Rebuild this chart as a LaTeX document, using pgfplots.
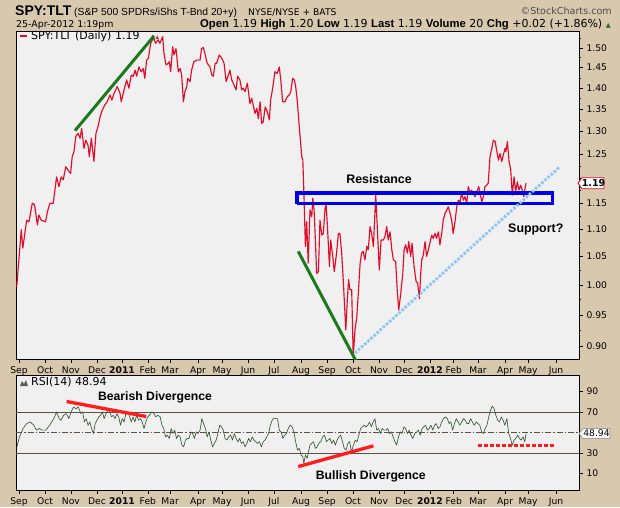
\documentclass[border=0pt]{standalone}
\usepackage{pgfplots}
\pgfplotsset{compat=1.18}
\usepackage{fontspec}
\setmainfont{DejaVu Sans}
\newfontfamily\lib{Liberation Sans}
\usetikzlibrary{calc}
\definecolor{tanbg}{RGB}{216,200,174}
\definecolor{plotbg}{RGB}{240,240,240}
\definecolor{pricered}{RGB}{226,12,40}
\definecolor{rsigreen}{RGB}{52,88,52}
\definecolor{trendgreen}{RGB}{28,122,28}
\definecolor{boxblue}{RGB}{0,0,235}
\definecolor{supblue}{RGB}{140,196,245}
\definecolor{annred}{RGB}{255,28,28}
\definecolor{refline}{RGB}{96,80,68}
\definecolor{upgreen}{RGB}{40,110,40}
\pgfplotsset{
  stockaxis/.style={
    scale only axis, width=563pt, xmin=-0.117, xmax=21.90,
    axis background/.style={fill=plotbg},
    axis line style={black, line width=0.8pt},
    xtick={0,1.02,2.03,3.05,4.03,5.04,5.91,7.0,7.94,8.96,9.97,11.03,12.05,13.06,14.08,15.06,16.07,17.0,17.95,19.01,19.91,21.0},
    xticklabels={Sep,Oct,Nov,Dec,\textbf{2011},Feb,Mar,Apr,May,Jun,Jul,Aug,Sep,Oct,Nov,Dec,\textbf{2012},Feb,Mar,Apr,May,Jun},
    xtick pos=bottom, ytick pos=right, yticklabel pos=right,
    tick align=outside, major tick length=4pt, minor tick length=2pt,
    tick style={black, line width=0.6pt},
    ticklabel style={font=\fontsize{9.2}{10}\selectfont},
    /pgf/number format/assume math mode=true,
  }
}
\newcommand\hb[1]{{\lib\bfseries\fontsize{11.3}{12}\selectfont #1}}
\begin{document}
\begin{tikzpicture}[x=1pt,y=1pt]
\useasboundingbox (0,0) rectangle (620,507);
\fill[tanbg] (0,0) rectangle (620,507);
% header
\node[anchor=base west, inner sep=0pt, font=\lib\bfseries\fontsize{14}{15}\selectfont] at (15,491) {SPY:TLT};
\node[anchor=base west, inner sep=0pt, font=\lib\fontsize{10.3}{12}\selectfont] at (74,491) {(S\&P 500 SPDRs/iShs T-Bnd 20+y)};
\node[anchor=base west, inner sep=0pt, font=\fontsize{9.2}{10}\selectfont] at (248,491.5) {NYSE/NYSE + BATS};
\node[anchor=base east, inner sep=0pt, font=\fontsize{9.6}{10}\selectfont, text=black!70] at (612,492) {©StockCharts.com};
\node[anchor=base west, inner sep=0pt, font=\fontsize{9.4}{10}\selectfont] at (16,479.5) {25-Apr-2012 1:19pm};
\node[anchor=base east, inner sep=0pt, font=\fontsize{11}{11}\selectfont] at (611,479.5) {\hb{Open} 1.19 \hb{High} 1.20 \hb{Low} 1.19 \hb{Last} 1.19 \hb{Volume} 20 \hb{Chg} +0.02 (+1.86\%) {\color{upgreen}\fontsize{6.5}{7}\selectfont ▲}};

% ---------------- price panel
\begin{axis}[stockaxis, at={(16pt,148pt)}, anchor=south west, height=328pt,
  ymode=log, ymin=0.881, ymax=1.544,
  ytick={0.90,0.95,1.00,1.05,1.10,1.15,1.20,1.25,1.30,1.35,1.40,1.45,1.50},
  yticklabels={0.90,0.95,1.00,1.05,1.10,1.15,,1.25,1.30,1.35,1.40,1.45,1.50},
  minor ytick={0.925,0.975,1.025,1.075,1.125,1.175,1.225,1.275,1.325,1.375,1.425,1.475,1.525},
]
\addplot[pricered, line width=1.15pt, line join=round] coordinates {
(-0.09,0.997) (0.09,1.099) (0.15,1.065) (0.30,1.117) (0.39,1.114) (0.52,1.150) (0.61,1.147) (0.72,1.108) (0.78,1.127) (0.87,1.117) (1.04,1.114) (1.11,1.133) (1.21,1.150) (1.34,1.150) (1.47,1.203) (1.56,1.183) (1.65,1.203) (1.73,1.197) (1.83,1.224) (1.92,1.217) (2.02,1.210) (2.08,1.245) (2.15,1.256) (2.22,1.289) (2.31,1.296) (2.39,1.285) (2.45,1.307) (2.54,1.263) (2.61,1.281) (2.70,1.270) (2.75,1.245) (2.83,1.285) (2.93,1.235) (3.01,1.296) (3.09,1.311) (3.17,1.333) (3.26,1.349) (3.35,1.360) (3.45,1.368) (3.56,1.384) (3.63,1.372) (3.72,1.388) (3.84,1.404) (3.95,1.388) (4.00,1.368) (4.11,1.396) (4.21,1.420) (4.30,1.400) (4.39,1.432) (4.47,1.429) (4.54,1.444) (4.60,1.429) (4.69,1.452) (4.78,1.440) (4.86,1.448) (4.92,1.424) (4.99,1.469) (5.06,1.474) (5.15,1.512) (5.25,1.525) (5.35,1.512) (5.44,1.521) (5.51,1.512) (5.62,1.529) (5.67,1.486) (5.75,1.457) (5.84,1.461) (5.88,1.465) (5.93,1.440) (6.01,1.503) (6.06,1.482) (6.14,1.498) (6.23,1.440) (6.30,1.448) (6.36,1.432) (6.43,1.368) (6.49,1.392) (6.56,1.404) (6.60,1.424) (6.69,1.416) (6.75,1.444) (6.84,1.465) (6.95,1.469) (7.08,1.469) (7.14,1.498) (7.21,1.501) (7.27,1.486) (7.36,1.461) (7.47,1.452) (7.54,1.432) (7.60,1.429) (7.67,1.461) (7.73,1.461) (7.83,1.482) (7.93,1.474) (8.02,1.461) (8.10,1.416) (8.19,1.432) (8.25,1.444) (8.32,1.420) (8.38,1.412) (8.49,1.396) (8.55,1.429) (8.64,1.420) (8.71,1.396) (8.77,1.400) (8.84,1.392) (8.93,1.412) (8.99,1.384) (9.03,1.364) (9.10,1.376) (9.16,1.360) (9.23,1.341) (9.30,1.353) (9.36,1.329) (9.43,1.368) (9.49,1.318) (9.55,1.322) (9.63,1.356) (9.71,1.345) (9.79,1.326) (9.84,1.372) (9.92,1.400) (10.01,1.440) (10.10,1.436) (10.18,1.452) (10.25,1.412) (10.31,1.368) (10.40,1.368) (10.49,1.380) (10.57,1.384) (10.63,1.392) (10.70,1.424) (10.77,1.420) (10.82,1.404) (10.88,1.372) (10.96,1.311) (11.06,1.245) (11.10,1.238) (11.15,1.156) (11.20,1.068) (11.25,1.114) (11.31,1.038) (11.38,1.137) (11.45,1.124) (11.49,1.160) (11.54,1.137) (11.58,1.092) (11.64,1.020) (11.71,1.023) (11.77,1.117) (11.84,1.089) (11.90,1.092) (11.97,1.140) (12.01,1.147) (12.06,1.108) (12.14,1.032) (12.19,1.080) (12.27,1.050) (12.33,1.023) (12.42,1.056) (12.49,1.092) (12.55,1.092) (12.62,1.056) (12.68,1.009) (12.72,0.975) (12.78,0.926) (12.84,0.975) (12.89,1.009) (12.94,0.992) (13.01,0.992) (13.07,0.885) (13.14,0.926) (13.21,0.947) (13.27,0.986) (13.34,1.038) (13.40,1.056) (13.46,1.059) (13.53,1.044) (13.60,1.068) (13.66,1.062) (13.73,1.105) (13.79,1.092) (13.86,1.068) (13.95,1.166) (14.01,1.105) (14.09,1.026) (14.16,1.080) (14.25,1.080) (14.31,1.086) (14.38,1.105) (14.44,1.080) (14.51,1.095) (14.58,1.062) (14.64,1.044) (14.73,1.041) (14.79,0.992) (14.85,0.958) (14.93,0.986) (15.01,1.020) (15.06,1.062) (15.12,1.071) (15.19,1.056) (15.24,1.077) (15.32,1.050) (15.37,1.074) (15.45,1.032) (15.53,1.006) (15.59,1.003) (15.66,0.977) (15.71,1.020) (15.75,1.044) (15.81,1.052) (15.88,1.077) (15.94,1.050) (16.01,1.062) (16.14,1.089) (16.20,1.083) (16.27,1.092) (16.33,1.083) (16.40,1.095) (16.46,1.071) (16.53,1.092) (16.59,1.117) (16.66,1.130) (16.73,1.137) (16.79,1.143) (16.86,1.130) (16.92,1.117) (16.98,1.092) (17.05,1.114) (17.12,1.143) (17.18,1.156) (17.25,1.153) (17.31,1.170) (17.38,1.156) (17.44,1.163) (17.51,1.150) (17.57,1.183) (17.64,1.170) (17.70,1.176) (17.77,1.170) (17.83,1.163) (17.90,1.173) (17.98,1.183) (18.03,1.170) (18.10,1.153) (18.16,1.163) (18.22,1.183) (18.29,1.186) (18.35,1.190) (18.42,1.245) (18.49,1.263) (18.55,1.281) (18.62,1.278) (18.68,1.259) (18.75,1.238) (18.81,1.252) (18.88,1.235) (18.94,1.249) (19.01,1.263) (19.04,1.256) (19.10,1.278) (19.16,1.238) (19.23,1.217) (19.29,1.166) (19.36,1.203) (19.42,1.173) (19.49,1.193) (19.55,1.176) (19.62,1.186) (19.68,1.176) (19.74,1.163) (19.80,1.183) (19.83,1.190)
};
% annotations
\addplot[trendgreen, line width=3pt] coordinates {(2.19,1.302) (5.28,1.531)};
\addplot[trendgreen, line width=3pt] coordinates {(10.92,1.059) (13.18,0.878)};
\addplot[boxblue, line width=3.3pt, line join=miter] coordinates {(10.87,1.149) (20.86,1.149) (20.86,1.170) (10.87,1.170) (10.87,1.149)};
\addplot[supblue, line width=2.8pt, dash pattern=on 2.6pt off 1.6pt] coordinates {(13.14,0.890) (21.13,1.223)};
\node[font=\lib\bfseries\fontsize{12.4}{14}\selectfont] at (axis cs:14.08,1.198) {Resistance};
\node[font=\lib\bfseries\fontsize{12.4}{14}\selectfont] at (axis cs:20.21,1.0995) {Support?};
\coordinate (tag1) at (axis cs:21.90,1.19);
\end{axis}
% legend price
\draw[pricered, line width=2pt] (20,471) -- (27,471);
\node[anchor=base west, inner sep=0pt, font=\fontsize{11}{11}\selectfont] at (31,467) {SPY:TLT (Daily) 1.19};
\node[anchor=base west, inner sep=0pt, font=\fontsize{7}{7}\selectfont] at (150,467) {\color{upgreen}▲\color{pricered}\raisebox{0.3pt}{▴}};
% price tag
\draw[pricered, fill=white, line width=0.9pt] ($(tag1)+(-1,0)$) -- ++(4,5.5) -- ++(22,0) -- ++(0,-11) -- ++(-22,0) -- cycle;
\node[font=\bfseries\fontsize{9.5}{10}\selectfont] at ($(tag1)+(14.5,0)$) {1.19};

% ---------------- RSI panel
\begin{axis}[stockaxis, at={(16pt,17pt)}, anchor=south west, height=115pt,
  ymin=-6, ymax=106, ytick={10,30,50,70,90}, yticklabels={10,30,,70,90},
]
\addplot[refline, line width=0.8pt] coordinates {(-0.117,70) (21.90,70)};
\addplot[refline, line width=0.8pt] coordinates {(-0.117,30) (21.90,30)};
\addplot[refline, line width=0.7pt, dash pattern=on 6pt off 2pt on 1.5pt off 2pt] coordinates {(-0.117,50) (21.90,50)};
\addplot[rsigreen, line width=0.65pt, line join=round] coordinates {
(-0.08,36.1) (0.02,45.8) (0.16,53.9) (0.30,58.7) (0.44,60.3) (0.58,57.1) (0.68,52.3) (0.79,53.9) (0.91,52.3) (1.05,52.3) (1.15,55.5) (1.24,58.7) (1.36,63.5) (1.47,70.0) (1.57,63.5) (1.64,61.9) (1.75,66.8) (1.85,68.4) (1.95,63.5) (2.04,70.0) (2.13,74.8) (2.23,73.2) (2.32,74.8) (2.42,68.4) (2.49,70.0) (2.56,60.3) (2.63,63.5) (2.70,57.1) (2.77,60.3) (2.84,53.9) (2.91,49.0) (2.98,58.7) (3.05,61.9) (3.12,65.2) (3.19,66.8) (3.26,70.0) (3.33,63.5) (3.40,68.4) (3.48,71.6) (3.55,70.0) (3.62,65.2) (3.69,66.8) (3.76,63.5) (3.83,68.4) (3.90,65.2) (3.97,57.1) (4.04,63.5) (4.11,60.3) (4.18,68.4) (4.29,68.4) (4.39,60.3) (4.46,65.2) (4.53,60.3) (4.60,66.8) (4.68,61.9) (4.75,63.5) (4.82,60.3) (4.89,53.9) (4.96,60.3) (5.03,65.2) (5.10,66.8) (5.20,70.0) (5.28,68.4) (5.35,65.2) (5.42,66.8) (5.52,65.2) (5.59,57.1) (5.66,53.9) (5.73,45.8) (5.80,47.4) (5.88,44.2) (5.95,53.9) (6.02,49.0) (6.09,52.3) (6.16,44.2) (6.23,47.4) (6.30,45.8) (6.37,37.7) (6.44,36.1) (6.51,42.6) (6.58,44.2) (6.65,44.2) (6.72,50.6) (6.79,49.0) (6.86,44.2) (6.93,50.6) (7.00,49.0) (7.08,52.3) (7.15,63.5) (7.22,58.7) (7.29,53.9) (7.36,45.8) (7.43,50.6) (7.50,42.6) (7.57,36.1) (7.64,39.4) (7.71,42.6) (7.78,49.0) (7.85,57.1) (7.92,55.5) (7.99,52.3) (8.06,44.2) (8.13,42.6) (8.20,45.8) (8.28,47.4) (8.35,42.6) (8.42,49.0) (8.49,44.2) (8.56,41.0) (8.63,44.2) (8.70,39.4) (8.77,41.0) (8.84,36.1) (8.91,39.4) (8.98,44.2) (9.05,41.0) (9.12,45.8) (9.19,42.6) (9.26,41.0) (9.33,39.4) (9.40,41.0) (9.48,36.1) (9.55,41.0) (9.62,42.6) (9.69,45.8) (9.76,49.0) (9.83,57.1) (9.90,61.9) (9.97,64.2) (10.04,63.5) (10.11,63.5) (10.18,52.3) (10.25,50.6) (10.32,44.2) (10.39,47.4) (10.46,49.0) (10.53,53.9) (10.60,57.1) (10.68,55.5) (10.75,50.6) (10.82,41.0) (10.89,32.9) (10.96,34.5) (11.03,28.1) (11.10,26.4) (11.14,20.0) (11.20,28.1) (11.27,24.8) (11.32,31.3) (11.38,37.7) (11.45,39.4) (11.52,41.0) (11.59,34.5) (11.66,36.1) (11.73,39.4) (11.80,41.0) (11.88,45.8) (11.95,47.4) (12.02,41.0) (12.09,42.6) (12.16,44.2) (12.23,39.4) (12.30,42.6) (12.37,37.7) (12.44,42.6) (12.51,45.8) (12.58,47.4) (12.65,41.0) (12.72,34.5) (12.79,32.9) (12.86,39.4) (12.93,41.0) (13.00,31.3) (13.08,37.7) (13.15,42.6) (13.22,41.0) (13.29,47.4) (13.36,53.9) (13.43,55.5) (13.50,57.1) (13.57,55.5) (13.64,57.1) (13.71,60.3) (13.78,55.5) (13.85,60.3) (13.92,63.5) (13.99,52.3) (14.06,53.9) (14.13,49.0) (14.20,53.9) (14.28,52.3) (14.35,52.3) (14.42,53.9) (14.49,49.0) (14.56,50.6) (14.63,45.8) (14.70,41.0) (14.77,37.7) (14.84,45.8) (14.91,50.6) (14.98,49.0) (15.05,55.5) (15.12,53.9) (15.19,49.0) (15.26,52.3) (15.33,47.4) (15.40,44.2) (15.48,49.0) (15.55,50.6) (15.62,52.3) (15.69,47.4) (15.76,53.9) (15.83,55.5) (15.90,57.1) (15.97,52.3) (16.04,53.9) (16.11,57.1) (16.18,52.3) (16.25,57.1) (16.32,58.7) (16.39,53.9) (16.46,55.5) (16.53,60.3) (16.60,63.5) (16.68,65.2) (16.75,63.5) (16.82,58.7) (16.89,60.3) (16.96,52.3) (17.03,58.7) (17.10,63.5) (17.17,60.3) (17.24,57.1) (17.31,60.3) (17.38,63.5) (17.45,61.9) (17.52,58.7) (17.59,58.7) (17.66,63.5) (17.73,60.3) (17.80,57.1) (17.88,60.3) (17.95,58.7) (18.02,57.1) (18.09,50.6) (18.16,49.0) (18.23,53.9) (18.30,57.1) (18.37,65.2) (18.44,71.6) (18.51,75.8) (18.58,73.2) (18.65,66.8) (18.72,61.9) (18.79,60.3) (18.86,65.2) (18.93,61.9) (19.00,57.1) (19.08,63.5) (19.15,49.0) (19.22,44.2) (19.29,37.7) (19.36,42.6) (19.43,44.2) (19.50,47.4) (19.57,44.2) (19.64,42.6) (19.71,45.8) (19.78,41.0) (19.83,48.94)
};
\addplot[annred, line width=3.3pt] coordinates {(1.86,80.2) (4.97,65.6)};
\addplot[annred, line width=3.3pt] coordinates {(10.92,16.8) (13.86,37.0)};
\addplot[annred, line width=3pt, dash pattern=on 3.4pt off 2.6pt] coordinates {(17.96,37.0) (20.92,37.0)};
\node[font=\lib\bfseries\fontsize{12.2}{14}\selectfont] at (axis cs:5.32,83.9) {Bearish Divergence};
\node[font=\lib\bfseries\fontsize{12.2}{14}\selectfont] at (axis cs:13.76,7.5) {Bullish Divergence};
\coordinate (tag2) at (axis cs:21.90,48.94);
\end{axis}
% RSI legend
\fill[gray!70!black] (20,121) -- (22,126) -- (24,123) -- (26,127) -- (28,121) -- cycle;
\node[anchor=base west, inner sep=0pt, font=\fontsize{11}{11}\selectfont] at (31,121.5) {RSI(14) 48.94};
% RSI tag
\draw[gray, fill=white, line width=0.6pt] (tag2) -- ++(4,5) -- ++(27,0) -- ++(0,-10) -- ++(-27,0) -- cycle;
\node[font=\fontsize{9.2}{10}\selectfont] at ($(tag2)+(17.5,0)$) {48.94};
\end{tikzpicture}
\end{document}
